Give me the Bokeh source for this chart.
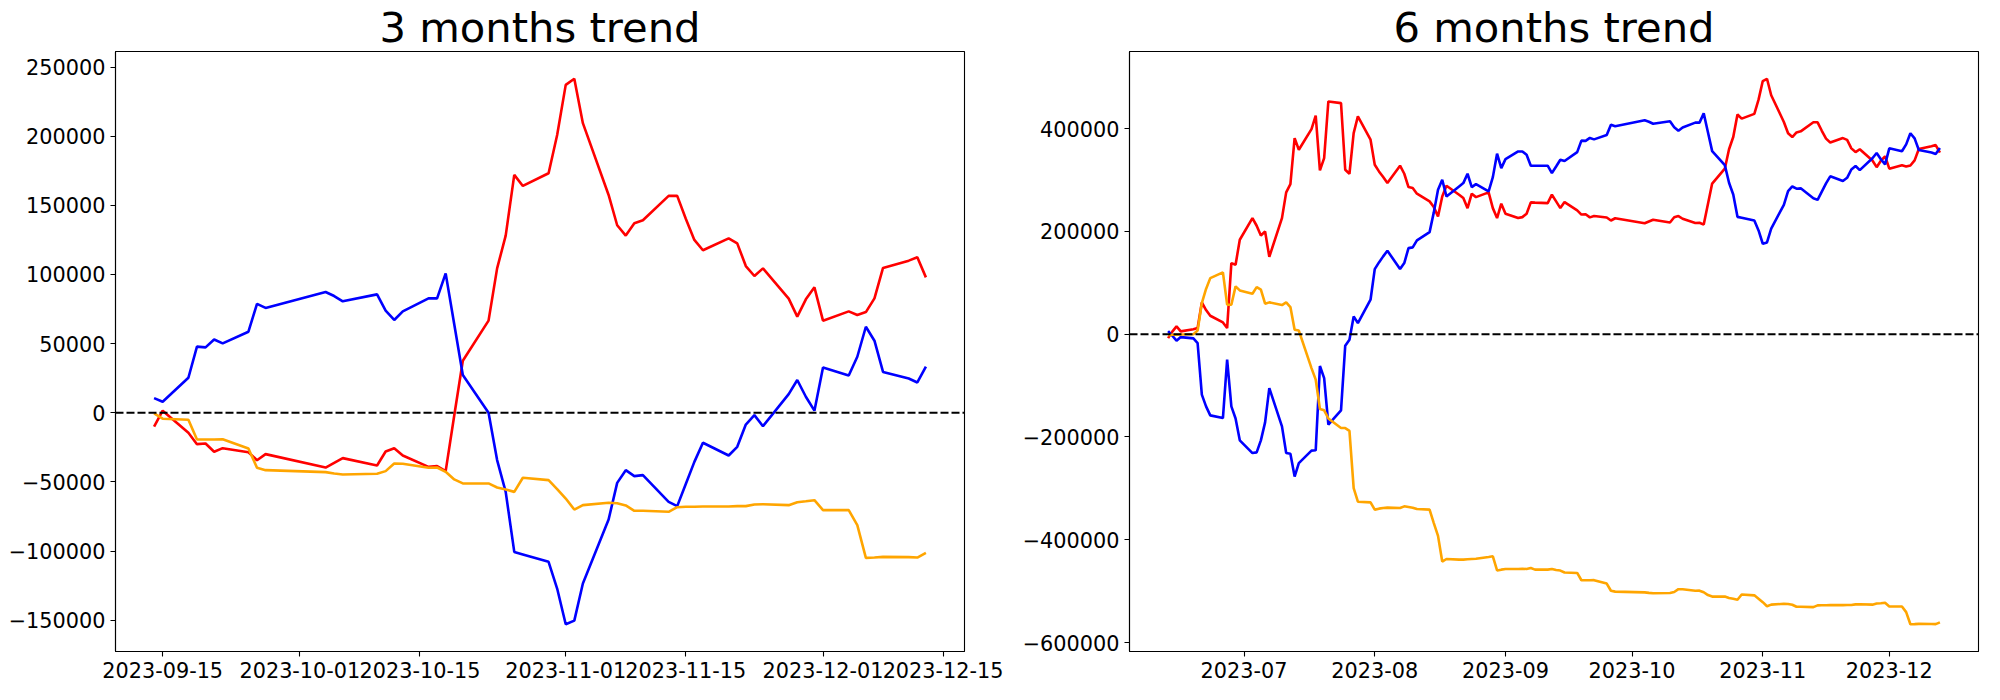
import pandas as pd
from bokeh.plotting import figure
from bokeh.layouts import row
from bokeh.models import Span, FixedTicker, CustomJSTickFormatter, Range1d
from bokeh.embed import file_html
from bokeh.resources import INLINE

# ---------------- 3 months data ----------------
dates_3m = [
    "2023-09-14", "2023-09-15", "2023-09-18", "2023-09-19", "2023-09-20", "2023-09-21", "2023-09-22",
    "2023-09-25", "2023-09-26", "2023-09-27", "2023-10-04", "2023-10-05", "2023-10-06", "2023-10-10",
    "2023-10-11", "2023-10-12", "2023-10-13", "2023-10-16", "2023-10-17", "2023-10-18", "2023-10-19",
    "2023-10-20", "2023-10-23", "2023-10-24", "2023-10-25", "2023-10-26", "2023-10-27", "2023-10-30",
    "2023-10-31", "2023-11-01", "2023-11-02", "2023-11-03", "2023-11-06", "2023-11-07", "2023-11-08",
    "2023-11-09", "2023-11-10", "2023-11-13", "2023-11-14", "2023-11-15", "2023-11-16", "2023-11-17",
    "2023-11-20", "2023-11-21", "2023-11-22", "2023-11-23", "2023-11-24", "2023-11-27", "2023-11-28",
    "2023-11-29", "2023-11-30", "2023-12-01", "2023-12-04", "2023-12-05", "2023-12-06", "2023-12-07",
    "2023-12-08", "2023-12-11", "2023-12-12", "2023-12-13",
]
blue_3m = [
    10600, 8000, 25300, 47800, 47300, 53000, 50200, 58600, 78700, 75800,
    87300, 84400, 80600, 85600, 73800, 67100, 73300, 82700, 82700, 100800,
    64000, 27300, 0, -34200, -57200, -100600, -102400, -107800, -127100, -152900,
    -150300, -123500, -77200, -50700, -41500, -45800, -45100, -64400, -67500, -51500,
    -35500, -21700, -30900, -24600, -8500, -1700, -9700, 13500, 23700, 11600,
    1500, 32800, 27000, 40500, 62200, 52100, 29500, 24800, 21900, 33300,
]
red_3m = [
    -10100, 1500, -14500, -22700, -22200, -28200, -25600, -28500, -34300, -29900,
    -39600, -36200, -32800, -38100, -28000, -25600, -30900, -39100, -38600, -42200,
    -2000, 37600, 66600, 104400, 128100, 172000, 164000, 173200, 200900, 237100,
    241500, 209400, 157500, 135600, 128100, 137000, 139200, 156800, 156800, 140300,
    125000, 117500, 126100, 122500, 106100, 98900, 104400, 82500, 69500, 82000,
    90700, 66600, 73300, 70700, 72800, 82700, 104700, 110000, 112400, 97900,
]
orange_3m = [
    -500, -4300, -5100, -19300, -19300, -19300, -19100, -25800, -39800, -41500,
    -42900, -43900, -44600, -44100, -42200, -36700, -36900, -39800, -39600, -42700,
    -48200, -51100, -51100, -54000, -55500, -57200, -47000, -48700, -55200, -62000,
    -70000, -66800, -65100, -65400, -67000, -70900, -70900, -71600, -68300, -68000,
    -68000, -67800, -67800, -67500, -67500, -66300, -66100, -66800, -64700, -64000,
    -63200, -70400, -70400, -81300, -104900, -104700, -104200, -104400, -104700, -101300,
]

# ---------------- 6 months data ----------------
dates_jun_sep = [
    "2023-06-13", "2023-06-14", "2023-06-15", "2023-06-16", "2023-06-19", "2023-06-20", "2023-06-21",
    "2023-06-22", "2023-06-23", "2023-06-26", "2023-06-27", "2023-06-28", "2023-06-29", "2023-06-30",
    "2023-07-03", "2023-07-04", "2023-07-05", "2023-07-06", "2023-07-07", "2023-07-10", "2023-07-11",
    "2023-07-12", "2023-07-13", "2023-07-14", "2023-07-17", "2023-07-18", "2023-07-19", "2023-07-20",
    "2023-07-21", "2023-07-24", "2023-07-25", "2023-07-26", "2023-07-27", "2023-07-28", "2023-07-31",
    "2023-08-01", "2023-08-02", "2023-08-03", "2023-08-04", "2023-08-07", "2023-08-08", "2023-08-09",
    "2023-08-10", "2023-08-11", "2023-08-14", "2023-08-15", "2023-08-16", "2023-08-17", "2023-08-18",
    "2023-08-21", "2023-08-22", "2023-08-23", "2023-08-24", "2023-08-25", "2023-08-28", "2023-08-29",
    "2023-08-30", "2023-08-31", "2023-09-01", "2023-09-04", "2023-09-05", "2023-09-06", "2023-09-07",
    "2023-09-08", "2023-09-11", "2023-09-12", "2023-09-13",
]
dates_6m = dates_jun_sep + dates_3m

blue_6m = [
    6000, -3000, -12600, -5700, -8200, -17300, -117700, -140500, -158000, -163200,
    -49600, -140500, -164000, -206600, -231300, -230000, -206600, -171600, -104900, -179400,
    -231300, -232500, -277000, -250800, -226600, -226000, -62000, -85400, -176100, -148200,
    -22400, -10700, 34600, 21600, 67100, 126700, 139700, 151400, 162400, 126700,
    138300, 167500, 168900, 182500, 198600, 237000, 281100, 300600, 268100, 287500,
    294000, 312200, 286200, 292000, 277800, 305600, 351200, 323200, 340700, 355600,
    355600, 349200, 327800, 327800, 327800, 313400, 326400,
    339500, 336900, 354200, 376700, 376200, 381900, 379100, 387500, 407600, 404700,
    416200, 413300, 409500, 414500, 402700, 396000, 402200, 411600, 411600, 429700,
    392900, 356200, 328900, 294700, 271700, 228300, 226500, 221100, 201800, 176000,
    178600, 205400, 251700, 278200, 287400, 283100, 283800, 264500, 261400, 277400,
    293400, 307200, 298000, 304300, 320400, 327200, 319200, 342400, 352600, 340500,
    330400, 361700, 355900, 369400, 391100, 381000, 358400, 353700, 350800, 362200,
]
red_6m = [
    -7600, 5000, 15200, 5500, 9500, 11900, 61900, 47000, 35900, 22900,
    11900, 138300, 135200, 183800, 225900, 211000, 192000, 200000, 150500, 225900,
    275900, 292000, 381500, 358900, 399000, 425100, 318700, 342600, 452900, 449600,
    320000, 312200, 391200, 423700, 378400, 329700, 316700, 305700, 294000, 327800,
    312200, 286200, 284300, 273300, 258400, 247300, 229200, 268100, 288900, 271400,
    264800, 245300, 273300, 266700, 275900, 245300, 225900, 253900, 234400, 225900,
    227800, 234400, 256400, 256000, 255100, 271400, 258400,
    245400, 257000, 241000, 232800, 233300, 227300, 229900, 227000, 221200, 225600,
    215900, 219300, 222700, 217400, 227500, 229900, 224600, 216400, 216900, 213300,
    253500, 293100, 322100, 359900, 383600, 427500, 419500, 428700, 456400, 492600,
    497000, 464900, 413000, 391100, 383600, 392500, 394700, 412300, 412300, 395800,
    380500, 373000, 381600, 378000, 361600, 354400, 359900, 338000, 325000, 337500,
    346200, 322100, 328800, 326200, 328300, 338200, 360200, 365500, 367900, 353400,
]
orange_6m = [
    -2000, -1000, -1000, -500, 0, 7000, 60600, 88000, 109100, 120200,
    57400, 57400, 93000, 85200, 78800, 91600, 86600, 59300, 61900, 56600,
    61900, 52700, 8800, 7000, -66000, -88500, -145700, -148200, -164000, -182700,
    -182700, -188000, -299400, -326000, -327200, -341400, -339500, -338200, -337500, -338200,
    -335000, -336300, -337600, -340300, -341400, -367500, -392500, -442500, -437500, -438700,
    -438700, -438000, -437500, -437000, -433600, -432300, -459800, -458200, -457000, -457000,
    -456300, -457000, -455000, -458200, -458200, -457000, -459000,
    -460000, -463800, -464600, -478800, -478800, -478800, -478600, -485300, -499300, -501000,
    -502400, -503400, -504100, -503600, -501700, -496200, -496400, -499300, -499100, -502200,
    -507700, -510600, -510600, -513500, -515000, -516700, -506500, -508200, -514700, -521500,
    -529500, -526300, -524600, -524900, -526500, -530400, -530400, -531100, -527800, -527500,
    -527500, -527300, -527300, -527000, -527000, -525800, -525600, -526300, -524200, -523500,
    -522700, -529900, -529900, -540800, -564400, -564200, -563700, -563900, -564200, -560800,
]

# ---------------- ticks ----------------
xticks_3m = ["2023-09-15", "2023-10-01", "2023-10-15", "2023-11-01", "2023-11-15", "2023-12-01", "2023-12-15"]
xticks_6m = ["2023-07-01", "2023-08-01", "2023-09-01", "2023-10-01", "2023-11-01", "2023-12-01"]
yticks_3m = [-150000, -100000, -50000, 0, 50000, 100000, 150000, 200000, 250000]
yticks_6m = [-600000, -400000, -200000, 0, 200000, 400000]

FONT = "DejaVu Sans"
TICK_SIZE = "20.8px"
TITLE_SIZE = "41.7px"


def to_ms(strs):
    return [pd.Timestamp(s).value // 10**6 for s in strs]


def date_formatter(monthly):
    ret = "`${y}-${m}`" if monthly else "`${y}-${m}-${dd}`"
    code = (
        "const d = new Date(tick);"
        "const y = d.getUTCFullYear();"
        "const m = String(d.getUTCMonth() + 1).padStart(2, '0');"
        "const dd = String(d.getUTCDate()).padStart(2, '0');"
        "return " + ret + ";"
    )
    return CustomJSTickFormatter(code=code)


num_formatter_code = (
    "const v = Math.round(tick);"
    "return v < 0 ? '\\u2212' + Math.abs(v).toString() : v.toString();"
)


def make_plot(title, dates, series, xticks, yticks, monthly, border_left, border_right):
    xs = pd.to_datetime(dates)
    x_ms = to_ms(dates)
    x0, x1 = min(x_ms), max(x_ms)
    xspan = x1 - x0
    allv = [v for _, vals in series for v in vals]
    y0, y1 = min(allv), max(allv)
    yspan = y1 - y0

    p = figure(
        frame_width=849, frame_height=600,
        x_axis_type="datetime",
        x_range=Range1d(x0 - 0.05 * xspan, x1 + 0.05 * xspan),
        y_range=Range1d(y0 - 0.05 * yspan, y1 + 0.05 * yspan),
        output_backend="svg", toolbar_location=None,
        min_border_left=border_left, min_border_right=border_right,
        min_border_top=47, min_border_bottom=45,
        background_fill_color="white", border_fill_color="white",
    )
    p.title.text = title
    p.title.text_font = FONT
    p.title.text_font_size = TITLE_SIZE
    p.title.text_font_style = "normal"
    p.title.text_color = "black"
    p.title.text_line_height = 0.85
    p.title.align = "center"
    p.title.standoff = 0

    for color, vals in series:
        p.line(xs, vals, line_color=color, line_width=2.6)

    p.add_layout(Span(location=0, dimension="width", line_color="black",
                      line_dash="8 3", line_width=2.1))

    p.xgrid.visible = False
    p.ygrid.visible = False
    p.outline_line_color = "black"
    p.outline_line_width = 1.1
    p.outline_line_alpha = 1.0

    p.xaxis.ticker = FixedTicker(ticks=to_ms(xticks))
    p.xaxis.formatter = date_formatter(monthly)
    p.yaxis.ticker = FixedTicker(ticks=yticks)
    p.yaxis.formatter = CustomJSTickFormatter(code=num_formatter_code)

    for ax in (p.xaxis[0], p.yaxis[0]):
        ax.axis_line_color = "black"
        ax.axis_line_width = 1.1
        ax.major_tick_line_color = "black"
        ax.major_tick_line_width = 1.1
        ax.major_tick_out = 5
        ax.major_tick_in = 0
        ax.minor_tick_line_color = None
        ax.major_label_text_font = FONT
        ax.major_label_text_font_size = TICK_SIZE
        ax.major_label_text_color = "black"
        ax.major_label_standoff = 5
    return p


p1 = make_plot("3 months trend", dates_3m,
               [("red", red_3m), ("blue", blue_3m), ("orange", orange_3m)],
               xticks_3m, yticks_3m, False, 115, 45)
p2 = make_plot("6 months trend", dates_6m,
               [("red", red_6m), ("blue", blue_6m), ("orange", orange_6m)],
               xticks_6m, yticks_6m, True, 120, 6)

layout = row(p1, p2)
open("out.html", "w").write(file_html(layout, INLINE))
